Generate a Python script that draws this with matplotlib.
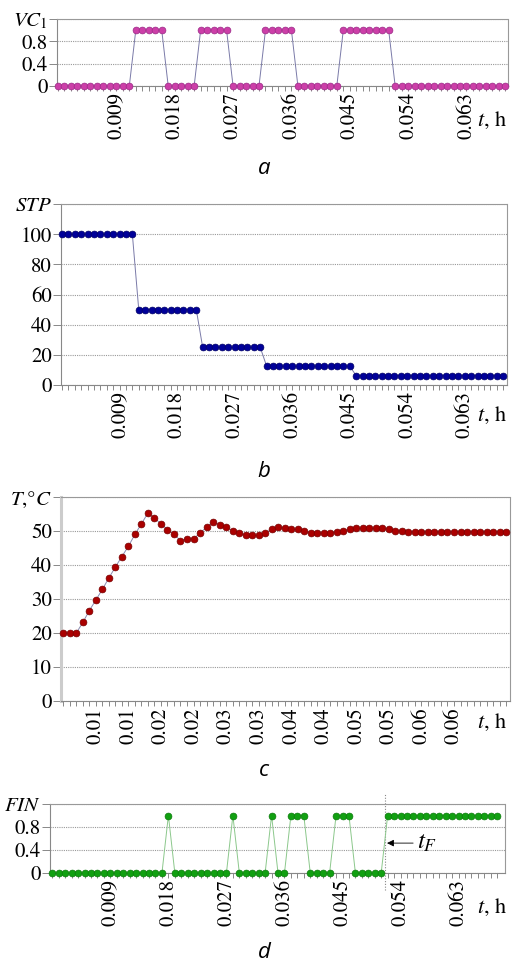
import numpy as np
import matplotlib
matplotlib.use("Agg")
import matplotlib.pyplot as plt
from matplotlib.ticker import FixedLocator

# STIXGeneral ships with matplotlib and is Times-like
plt.rcParams['font.family'] = ['STIXGeneral', 'Liberation Serif', 'DejaVu Serif']
plt.rcParams['mathtext.fontset'] = 'stix'
SERIF = 'STIXGeneral'

# --- data (one sample every 0.001 h) ---
vc1 = [0, 0, 0, 0, 0, 0, 0, 0, 0, 0, 0, 0,
       1, 1, 1, 1, 1,
       0, 0, 0, 0, 0,
       1, 1, 1, 1, 1,
       0, 0, 0, 0, 0,
       1, 1, 1, 1, 1,
       0, 0, 0, 0, 0, 0, 0,
       1, 1, 1, 1, 1, 1, 1, 1,
       0, 0, 0, 0, 0, 0, 0, 0, 0, 0, 0, 0, 0, 0, 0, 0, 0, 0]

stp = [100, 100, 100, 100, 100, 100, 100, 100, 100, 100, 100, 100,
       50, 50, 50, 50, 50, 50, 50, 50, 50, 50,
       25, 25, 25, 25, 25, 25, 25, 25, 25, 25,
       12.5, 12.5, 12.5, 12.5, 12.5, 12.5, 12.5, 12.5, 12.5, 12.5, 12.5, 12.5, 12.5, 12.5,
       6.25, 6.25, 6.25, 6.25, 6.25, 6.25, 6.25, 6.25, 6.25, 6.25, 6.25, 6.25,
       6.25, 6.25, 6.25, 6.25, 6.25, 6.25, 6.25, 6.25, 6.25, 6.25, 6.25, 6.25]

temp = [20, 20, 20, 23.1, 26.6, 29.7, 32.8, 36.2, 39.4, 42.5, 45.5, 49.0,
        52.1, 55.3, 53.8, 52.1, 50.4, 49.0, 47.2, 47.7, 47.7, 49.4, 51.1, 52.6,
        51.9, 51.2, 50.1, 49.4, 48.7, 48.7, 48.7, 49.4, 50.5, 51.1, 50.8, 50.5,
        50.5, 50.1, 49.4, 49.4, 49.4, 49.4, 49.8, 50.1, 50.5, 50.8, 50.8, 50.8,
        50.8, 50.8, 50.5, 50.1, 50.1, 49.8, 49.8, 49.8, 49.8, 49.8, 49.8, 49.8,
        49.8, 49.8, 49.8, 49.8, 49.8, 49.8, 49.8, 49.8, 49.8]

fin = [0, 0, 0, 0, 0, 0, 0, 0, 0, 0, 0, 0, 0, 0, 0, 0, 0, 0,
       1,
       0, 0, 0, 0, 0, 0, 0, 0, 0,
       1,
       0, 0, 0, 0, 0,
       1,
       0, 0,
       1, 1, 1,
       0, 0, 0, 0,
       1, 1, 1,
       0, 0, 0, 0, 0,
       1, 1, 1, 1, 1, 1, 1, 1, 1, 1, 1, 1, 1, 1, 1, 1, 1, 1]

dt = 0.001
t_fin_mark = 0.0516

abd_ticks = [0.009, 0.018, 0.027, 0.036, 0.045, 0.054, 0.063]
abd_labels = ['0.009', '0.018', '0.027', '0.036', '0.045', '0.054', '0.063']
c_ticks = [0.005, 0.010, 0.015, 0.020, 0.025, 0.030, 0.035, 0.040, 0.045, 0.050, 0.055, 0.060]
c_labels = ['0.01', '0.01', '0.02', '0.02', '0.03', '0.03', '0.04', '0.04', '0.05', '0.05', '0.06', '0.06']

W, H = 514, 968
fig = plt.figure(figsize=(W / 100, H / 100), dpi=100)


def px_axes(left, right, top, bottom):
    return fig.add_axes([left / W, 1 - bottom / H, (right - left) / W, (bottom - top) / H])


def style(ax, n, xlim, ylim, yticks, ylabels, ticks, labels):
    ax.set_xlim(xlim[0] * dt, xlim[1] * dt)
    ax.set_ylim(*ylim)
    ax.set_yticks(yticks)
    ax.set_yticklabels(ylabels, fontfamily=SERIF, fontsize=15)
    ax.xaxis.set_minor_locator(FixedLocator(np.arange(n) * dt))
    ax.set_xticks(ticks)
    ax.set_xticklabels(labels, fontfamily=SERIF, fontsize=15, rotation=90)
    for s in ['top', 'right']:
        ax.spines[s].set_linestyle((0, (1, 1)))
        ax.spines[s].set_color('#999999')
        ax.spines[s].set_linewidth(0.8)
    for s in ['left', 'bottom']:
        ax.spines[s].set_color('#888888')
        ax.spines[s].set_linewidth(0.8)
    ax.grid(axis='y', linestyle=(0, (1, 1)), color='#999999', linewidth=0.8)
    ax.tick_params(axis='x', which='both', direction='out', length=3.5,
                   color='#888888', width=0.7)
    ax.tick_params(axis='x', which='major', pad=1)
    ax.tick_params(axis='y', length=5.5, color='#888888', width=0.7, pad=1)


def plot_series(ax, y, face, edge, line):
    t = np.arange(len(y)) * dt
    ax.plot(t, y, '-', color=line, lw=0.7, zorder=2)
    ax.plot(t, y, 'o', ms=4.9, mfc=face, mec=edge, mew=0.5, zorder=3,
            clip_on=False)


def fig_text(x, y, s, **kw):
    fig.text(x / W, 1 - y / H, s, ha='center', va='center', **kw)


# a
ax_a = px_axes(57, 508, 19, 86)
plot_series(ax_a, vc1, '#cc3fa8', '#9a2a86', '#7a7aa8')
style(ax_a, len(vc1), (-0.15, 69.4), (0, 1.2), [0, 0.4, 0.8, 1.2],
      ['0', '0.4', '0.8', r'$VC_{\mathit{1}}$'], abd_ticks, abd_labels)

# b
ax_b = px_axes(61, 507, 204, 385)
plot_series(ax_b, stp, '#000099', '#000066', '#7a7aa8')
style(ax_b, len(stp), (-0.16, 69.6), (0, 120), [0, 20, 40, 60, 80, 100, 120],
      ['0', '20', '40', '60', '80', '100', '$STP$'], abd_ticks, abd_labels)

# c
ax_c = px_axes(61, 510, 497, 701)
plot_series(ax_c, temp, '#aa0000', '#770000', '#8a8ab0')
style(ax_c, len(temp), (-0.35, 68.6), (0, 60), [0, 10, 20, 30, 40, 50, 60],
      ['0', '10', '20', '30', '40', '50', '$T$,°$C$'], c_ticks, c_labels)
ax_c.spines['left'].set_color('#cccccc')
ax_c.spines['left'].set_linewidth(2.2)

# d
ax_d = px_axes(50, 505, 804, 873)
plot_series(ax_d, fin, '#11a011', '#0c7a0c', '#8cc88c')
style(ax_d, len(fin), (-0.36, 70.2), (0, 1.2), [0, 0.4, 0.8, 1.2],
      ['0', '0.4', '0.8', '$FIN$'], abd_ticks, abd_labels)
ax_d.axvline(t_fin_mark, ymin=-0.25, ymax=1.16, color='#888888', lw=0.8,
             linestyle=(0, (1, 1.5)), clip_on=False, zorder=1)
ax_d.annotate('$t_F$', xy=(t_fin_mark + 0.0003, 0.52), xytext=(0.0566, 0.52),
              fontsize=18, va='center', ha='left',
              arrowprops=dict(arrowstyle='-|>', color='black', lw=0.6,
                              shrinkA=1, shrinkB=0, mutation_scale=10))

# axis names at the right end and panel captions
for yy in [120, 415, 722, 907]:
    fig_text(492, yy, '$t$, h', fontsize=16)

for lab, yy in [('a', 168), ('b', 472), ('c', 770), ('d', 953)]:
    fig_text(264, yy, lab, fontsize=16, style='italic', family='Open Sans')

fig.savefig('out.png', dpi=100)
